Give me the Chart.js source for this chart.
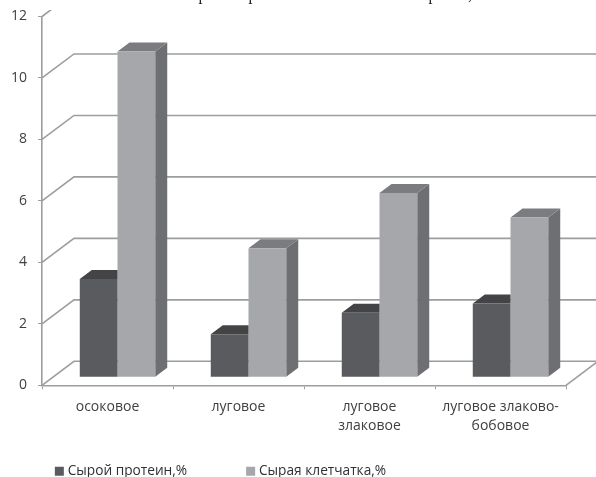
<!DOCTYPE html>
<html>
<head>
<meta charset="utf-8">
<style>
  html, body { margin: 0; padding: 0; background: #fff; }
  #wrap { width: 596px; height: 477px; }
</style>
<script src="https://cdn.jsdelivr.net/npm/chart.js@4"></script>
</head>
<body>
<div id="wrap"><canvas id="chart" width="596" height="477"></canvas></div>
<script>
const categories = ['осоковое', 'луговое', ['луговое', 'злаковое'], ['луговое злаково-', 'бобовое']];
const proteinLabel = 'Сырой протеин,%';
const fiberLabel = 'Сырая клетчатка,%';
const protein = [3.2, 1.4, 2.1, 2.4];
const fiber = [10.6, 4.2, 6.0, 5.2];
const yTicks = [0, 2, 4, 6, 8, 10, 12];
const headingGlyphs = ['р', 'р', 'р', ','];

const FONT = '"Open Sans", sans-serif';
const TEXT = '#3f4042';
const LINE = '#9c9d9f';

// Depth of the back wall and of the bars, in pixels
const WALL_DX = 32, WALL_DY = 24;
const BAR_DX = 12, BAR_DY = 9;
const BAR_SHIFT_X = 10, BAR_SHIFT_Y = 8;

// Legend placement relative to where the layout puts it
const LEGEND_SHIFT_X = -61, LEGEND_SHIFT_Y = -42;

const faceColors = [
  { top: '#444446', side: '#444446' },
  { top: '#7b7c7f', side: '#6e6f72' }
];

// Back wall: each gridline runs diagonally to the wall, then across it
const wallPlugin = {
  id: 'wall',
  beforeDatasetsDraw(chart) {
    const { ctx, chartArea: a, scales: { y } } = chart;
    ctx.save();
    ctx.beginPath();
    ctx.rect(0, 10, chart.width, chart.height);
    ctx.clip();
    ctx.strokeStyle = LINE;
    ctx.lineWidth = 1.6;
    yTicks.forEach(v => {
      const py = y.getPixelForValue(v);
      ctx.beginPath();
      ctx.moveTo(a.left, py);
      ctx.lineTo(a.left + WALL_DX, py - WALL_DY);
      ctx.lineTo(chart.width, py - WALL_DY);
      ctx.stroke();
    });
    ctx.beginPath();
    ctx.moveTo(a.right, a.bottom);
    ctx.lineTo(a.right + WALL_DX, a.bottom - WALL_DY);
    ctx.stroke();
    ctx.restore();
  }
};

// Extruded bars: the native bar is the front face, top and side are added behind it.
// The first series sits behind the second, so its side face and the right end of its top stay hidden.
const extrudePlugin = {
  id: 'extrude',
  beforeDatasetDraw(chart, args) {
    const { ctx } = chart;
    ctx.save();
    ctx.translate(BAR_SHIFT_X, -BAR_SHIFT_Y);
    const faces = faceColors[args.index];
    const hidden = args.index === 0;
    args.meta.data.forEach(bar => {
      const { x, y, base, width } = bar.getProps(['x', 'y', 'base', 'width'], true);
      const l = x - width / 2, r = x + width / 2;
      if (!hidden) {
        ctx.fillStyle = faces.side;
        ctx.beginPath();
        ctx.moveTo(r, y);
        ctx.lineTo(r + BAR_DX, y - BAR_DY);
        ctx.lineTo(r + BAR_DX, base - BAR_DY);
        ctx.lineTo(r, base);
        ctx.closePath();
        ctx.fill();
      }
      ctx.fillStyle = faces.top;
      ctx.beginPath();
      ctx.moveTo(l, y);
      ctx.lineTo(l + BAR_DX, y - BAR_DY);
      ctx.lineTo(hidden ? r : r + BAR_DX, y - BAR_DY);
      ctx.lineTo(r, y);
      ctx.closePath();
      ctx.fill();
    });
  },
  afterDatasetDraw(chart) {
    chart.ctx.restore();
  }
};

// Moves the legend box after layout, so its wide item gap does not squeeze the axis
const legendPlacePlugin = {
  id: 'legendPlace',
  afterLayout(chart) {
    const box = chart.legend;
    box.left += LEGEND_SHIFT_X;
    box.right += LEGEND_SHIFT_X;
    box.top += LEGEND_SHIFT_Y;
    box.bottom += LEGEND_SHIFT_Y;
  }
};

// Lower edge of the line of text running above the plot
const headingPlugin = {
  id: 'heading',
  afterDraw(chart) {
    const { ctx } = chart;
    const xs = [198.5, 248.5, 428.5, 468];
    ctx.save();
    ctx.font = '16px "Liberation Serif", serif';
    ctx.fillStyle = '#222';
    ctx.textBaseline = 'alphabetic';
    headingGlyphs.forEach((g, i) => ctx.fillText(g, xs[i], 0));
    ctx.restore();
  }
};

// Legend keys: a thick outline around a small box keeps the text close to the key
const legendLabels = chart =>
  Chart.defaults.plugins.legend.labels.generateLabels(chart).map(item => ({
    ...item, lineWidth: 6, strokeStyle: item.fillStyle
  }));

new Chart(document.getElementById('chart'), {
  type: 'bar',
  data: {
    labels: categories,
    datasets: [
      { label: proteinLabel, data: protein, backgroundColor: '#5a5b5e', barPercentage: 1, categoryPercentage: 0.576 },
      { label: fiberLabel, data: fiber, backgroundColor: '#a6a7aa', barPercentage: 1, categoryPercentage: 0.576 }
    ]
  },
  plugins: [wallPlugin, extrudePlugin, legendPlacePlugin, headingPlugin],
  options: {
    responsive: false,
    animation: false,
    layout: { padding: { left: 0, right: 30, top: 16.5, bottom: -53 } },
    plugins: {
      tooltip: { enabled: false },
      legend: {
        position: 'bottom',
        labels: {
          boxWidth: 3, boxHeight: 3, padding: 62, color: '#2f3032',
          generateLabels: legendLabels,
          font: { family: FONT, size: 13.7 }
        }
      }
    },
    scales: {
      x: {
        afterFit(s) { s.height = 59; },
        grid: { drawOnChartArea: false, drawTicks: true, tickLength: 4, color: LINE },
        border: { color: LINE, width: 1.6 },
        ticks: { color: TEXT, maxRotation: 0, autoSkip: false, padding: 8, font: { family: FONT, size: 14, lineHeight: 1.36 } }
      },
      y: {
        min: 0,
        max: 12,
        afterFit(s) { s.width = 42; s.paddingTop = 0; s.paddingBottom = 0; },
        afterBuildTicks(s) { s.ticks = yTicks.map(value => ({ value })); },
        grid: { drawOnChartArea: false, drawTicks: true, tickLength: 4, color: LINE },
        border: { color: LINE, width: 1.6 },
        ticks: { color: TEXT, padding: 11, font: { family: FONT, size: 14 } }
      }
    }
  }
});
</script>
</body>
</html>
